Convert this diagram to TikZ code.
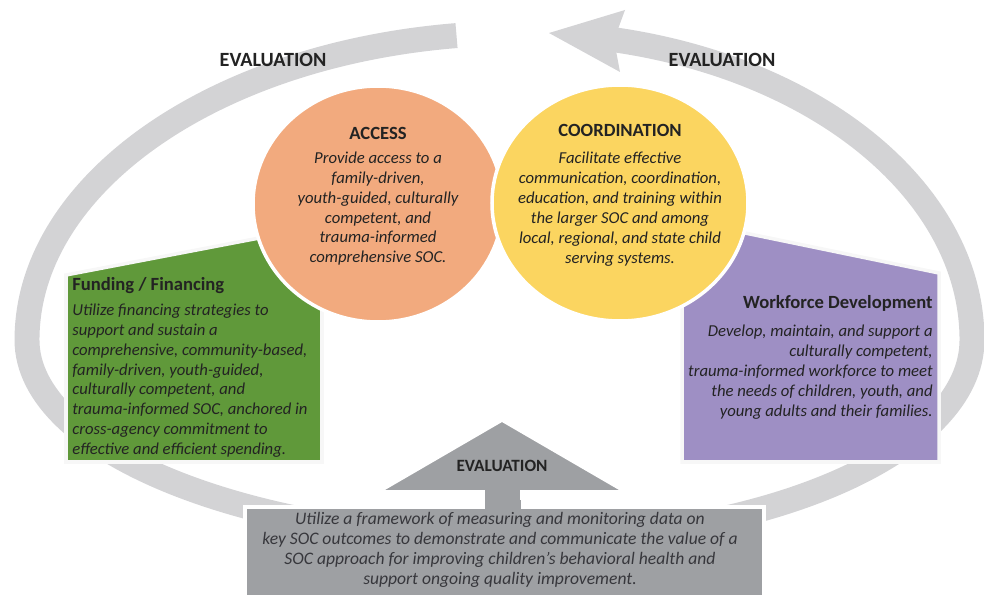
\documentclass[tikz,border=0pt]{standalone}
\usepackage{fontspec}
\setmainfont{Carlito}
\usetikzlibrary{positioning}

\definecolor{ringgrey}{RGB}{211,211,213}
\definecolor{accessorange}{RGB}{242,170,126}
\definecolor{coordyellow}{RGB}{251,213,96}
\definecolor{fundgreen}{RGB}{96,153,58}
\definecolor{workpurple}{RGB}{158,143,196}
\definecolor{evalgrey}{RGB}{158,160,163}
\definecolor{textdark}{RGB}{35,35,35}
\definecolor{evaltext}{RGB}{55,55,60}

\tikzset{
  title/.style={font=\fontsize{10.6}{12}\selectfont\bfseries, text=textdark, inner sep=0pt},
  body/.style={font=\fontsize{9.5}{11.35}\selectfont\itshape, text=textdark, align=center, inner sep=0pt},
  evallabel/.style={font=\fontsize{11.5}{13}\selectfont\bfseries, text=textdark, inner sep=0pt},
  rim/.style={draw=white, line width=2pt}
}

\begin{document}
\begin{tikzpicture}[x=0.02cm, y=-0.02cm]
\useasboundingbox (0,0) rectangle (984,601);

% the evaluation ring
\draw[ringgrey, line width=14.2pt] (520,340) ++(262.6:493 and 307)
  arc[start angle=262.6, end angle=180, x radius=493, y radius=307]
  arc[start angle=180, end angle=90, x radius=493, y radius=200]
  arc[start angle=90, end angle=0, x radius=452, y radius=200]
  arc[start angle=0, end angle=-78, x radius=452, y radius=307];
\fill[ringgrey] (549,33) -- (625,10) -- (614,40) -- (620,72) -- cycle;

% side boxes
\filldraw[fill=fundgreen, draw=gray!6, line width=2pt] (66,275) -- (322,226) -- (322,462) -- (66,462) -- cycle;
\filldraw[fill=workpurple, draw=gray!6, line width=2pt] (682,220) -- (939,273) -- (939,462) -- (682,462) -- cycle;

% circles
\filldraw[fill=accessorange, rim] (378,204) ellipse [x radius=125, y radius=118];
\filldraw[fill=coordyellow, rim] (620,203) ellipse [x radius=128, y radius=118];

% bottom arrow and box
\filldraw[fill=evalgrey, rim] (502,420) -- (626,492) -- (522,492) -- (522,507) -- (483,507) -- (483,492) -- (378,492) -- cycle;
\filldraw[fill=evalgrey, rim] (245,507) rectangle (764,597);
\fill[evalgrey] (484.5,500) rectangle (520.5,511);

% evaluation labels
\node[evallabel] (evalleft) at (273,60) {EVALUATION};
\node[evallabel] (evalright) at (722,60) {EVALUATION};
\node[evallabel, font=\fontsize{9.8}{11}\selectfont\bfseries] (evalbottom) at (502,466) {EVALUATION};

% access
\node[title] (accesstitle) at (378,133) {ACCESS};
\node[body, below=6.7pt of accesstitle] (accessbody) {Provide access to a\\family-driven,\\youth-guided, culturally\\competent, and\\trauma-informed\\comprehensive SOC.};

% coordination
\node[title] (coordtitle) at (620,130) {COORDINATION};
\node[body, below=8.7pt of coordtitle] (coordbody) {Facilitate effective\\communication, coordination,\\education, and training within\\the larger SOC and among\\local, regional, and state child\\serving systems.};

% funding / financing
\node[title, anchor=west] (fundtitle) at (72,286) {Funding / Financing};
\node[body, align=left, below right=5pt and 0pt of fundtitle.south west] (fundbody) {Utilize financing strategies to\\support and sustain a\\comprehensive, community-based,\\family-driven, youth-guided,\\culturally competent, and\\trauma-informed SOC, anchored in\\cross-agency commitment to\\effective and efficient spending.};

% workforce development
\node[title, anchor=east] (worktitle) at (933,303) {Workforce Development};
\node[body, align=right, below left=7.7pt and 0pt of worktitle.south east] (workbody) {Develop, maintain, and support a\\culturally competent,\\trauma-informed workforce to meet\\the needs of children, youth, and\\young adults and their families.};

% evaluation box text
\node[body, text=evaltext, font=\fontsize{10}{11.35}\selectfont\itshape] (evalbody) at (500,550) {Utilize a framework of measuring and monitoring data on\\key SOC outcomes to demonstrate and communicate the value of a\\SOC approach for improving children’s behavioral health and\\support ongoing quality improvement.};

\end{tikzpicture}
\end{document}
